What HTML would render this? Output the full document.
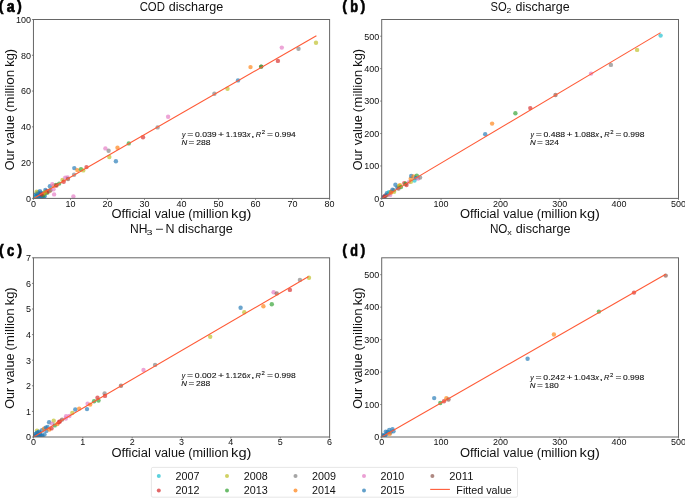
<!DOCTYPE html><html><head><meta charset="utf-8"><style>html,body{margin:0;padding:0;background:#fff;}svg{display:block;}text{font-family:"Liberation Sans", sans-serif;}</style></head><body>
<svg width="685" height="498" viewBox="0 0 685 498">
<rect width="685" height="498" fill="#fff"/>
<clipPath id="cpa"><rect x="33.45" y="19.5" width="296.15" height="178.9"/></clipPath><g clip-path="url(#cpa)">
<circle cx="34.5" cy="197.2" r="2.2" fill="#1f77b4" fill-opacity="0.66"/>
<circle cx="36" cy="196.9" r="2.2" fill="#1f77b4" fill-opacity="0.66"/>
<circle cx="38" cy="197.2" r="2.2" fill="#1f77b4" fill-opacity="0.66"/>
<circle cx="41.5" cy="197.3" r="2.2" fill="#1f77b4" fill-opacity="0.66"/>
<circle cx="43.5" cy="197.2" r="2.2" fill="#1f77b4" fill-opacity="0.66"/>
<circle cx="35" cy="195" r="2.2" fill="#1f77b4" fill-opacity="0.66"/>
<circle cx="38" cy="192.5" r="2.2" fill="#1f77b4" fill-opacity="0.66"/>
<circle cx="41" cy="192.8" r="2.2" fill="#1f77b4" fill-opacity="0.66"/>
<circle cx="40" cy="195.5" r="2.2" fill="#1f77b4" fill-opacity="0.66"/>
<circle cx="43" cy="193.5" r="2.2" fill="#1f77b4" fill-opacity="0.66"/>
<circle cx="46" cy="191.5" r="2.2" fill="#1f77b4" fill-opacity="0.66"/>
<circle cx="44.8" cy="196" r="2.2" fill="#1f77b4" fill-opacity="0.66"/>
<circle cx="35.5" cy="196.8" r="2.2" fill="#1f77b4" fill-opacity="0.66"/>
<circle cx="37" cy="195.5" r="2.2" fill="#1f77b4" fill-opacity="0.66"/>
<circle cx="38.5" cy="196.5" r="2.2" fill="#1f77b4" fill-opacity="0.66"/>
<circle cx="40.5" cy="196.8" r="2.2" fill="#1f77b4" fill-opacity="0.66"/>
<circle cx="39" cy="194" r="2.2" fill="#1f77b4" fill-opacity="0.66"/>
<circle cx="36.5" cy="193.5" r="2.2" fill="#1f77b4" fill-opacity="0.66"/>
<circle cx="36.6" cy="191.7" r="2.2" fill="#bcbd22" fill-opacity="0.66"/>
<circle cx="39.9" cy="191.1" r="2.2" fill="#1f77b4" fill-opacity="0.66"/>
<circle cx="37.8" cy="194.1" r="2.2" fill="#1f77b4" fill-opacity="0.66"/>
<circle cx="42" cy="195.5" r="2.2" fill="#1f77b4" fill-opacity="0.66"/>
<circle cx="43.3" cy="195.3" r="2.2" fill="#2ca02c" fill-opacity="0.66"/>
<circle cx="44.2" cy="193.2" r="2.2" fill="#ff7f0e" fill-opacity="0.66"/>
<circle cx="46.9" cy="192.9" r="2.2" fill="#2ca02c" fill-opacity="0.66"/>
<circle cx="45.4" cy="189.9" r="2.2" fill="#1f77b4" fill-opacity="0.66"/>
<circle cx="41.5" cy="194.5" r="2.2" fill="#d62728" fill-opacity="0.66"/>
<circle cx="34.5" cy="197.5" r="2.2" fill="#17becf" fill-opacity="0.66"/>
<circle cx="48.5" cy="191.5" r="2.2" fill="#8c564b" fill-opacity="0.66"/>
<circle cx="50" cy="190.5" r="2.2" fill="#ff7f0e" fill-opacity="0.66"/>
<circle cx="47" cy="191.5" r="2.2" fill="#d62728" fill-opacity="0.66"/>
<circle cx="50.5" cy="190.2" r="2.2" fill="#7f7f7f" fill-opacity="0.66"/>
<circle cx="45" cy="192.2" r="2.2" fill="#bcbd22" fill-opacity="0.66"/>
<circle cx="49.9" cy="186.3" r="2.2" fill="#1f77b4" fill-opacity="0.66"/>
<circle cx="53.5" cy="189.3" r="2.2" fill="#e377c2" fill-opacity="0.66"/>
<circle cx="53.8" cy="185.7" r="2.2" fill="#ff7f0e" fill-opacity="0.66"/>
<circle cx="55.9" cy="185" r="2.2" fill="#2ca02c" fill-opacity="0.66"/>
<circle cx="52.3" cy="184.2" r="2.2" fill="#e377c2" fill-opacity="0.66"/>
<circle cx="59.2" cy="183.6" r="2.2" fill="#2ca02c" fill-opacity="0.66"/>
<circle cx="56.5" cy="185.5" r="2.2" fill="#d62728" fill-opacity="0.66"/>
<circle cx="62.5" cy="179.9" r="2.2" fill="#bcbd22" fill-opacity="0.66"/>
<circle cx="63.7" cy="181.7" r="2.2" fill="#d62728" fill-opacity="0.66"/>
<circle cx="65.3" cy="177.6" r="2.2" fill="#e377c2" fill-opacity="0.66"/>
<circle cx="67.6" cy="177.4" r="2.2" fill="#e377c2" fill-opacity="0.66"/>
<circle cx="68" cy="179" r="2.2" fill="#8c564b" fill-opacity="0.66"/>
<circle cx="54.1" cy="194.4" r="2.2" fill="#e377c2" fill-opacity="0.66"/>
<circle cx="73.4" cy="196.5" r="2.2" fill="#e377c2" fill-opacity="0.66"/>
<circle cx="74.1" cy="174.7" r="2.2" fill="#7f7f7f" fill-opacity="0.66"/>
<circle cx="74.3" cy="168.1" r="2.2" fill="#1f77b4" fill-opacity="0.66"/>
<circle cx="77.3" cy="170.1" r="2.2" fill="#ff7f0e" fill-opacity="0.66"/>
<circle cx="81" cy="169.2" r="2.2" fill="#2ca02c" fill-opacity="0.66"/>
<circle cx="83.3" cy="170.4" r="2.2" fill="#bcbd22" fill-opacity="0.66"/>
<circle cx="86.5" cy="167.1" r="2.2" fill="#d62728" fill-opacity="0.66"/>
<circle cx="115.9" cy="161.3" r="2.2" fill="#1f77b4" fill-opacity="0.66"/>
<circle cx="109.3" cy="157" r="2.2" fill="#bcbd22" fill-opacity="0.66"/>
<circle cx="108.6" cy="150.8" r="2.2" fill="#7f7f7f" fill-opacity="0.66"/>
<circle cx="105.4" cy="148.4" r="2.2" fill="#e377c2" fill-opacity="0.66"/>
<circle cx="117.5" cy="147.7" r="2.2" fill="#ff7f0e" fill-opacity="0.66"/>
<circle cx="128.8" cy="143.4" r="2.2" fill="#2ca02c" fill-opacity="0.66"/>
<circle cx="143" cy="137.2" r="2.2" fill="#d62728" fill-opacity="0.66"/>
<circle cx="157.6" cy="127.4" r="2.2" fill="#7f7f7f" fill-opacity="0.66"/>
<circle cx="168.1" cy="116.8" r="2.2" fill="#e377c2" fill-opacity="0.66"/>
<circle cx="214.4" cy="93.8" r="2.2" fill="#7f7f7f" fill-opacity="0.66"/>
<circle cx="227.5" cy="88.8" r="2.2" fill="#bcbd22" fill-opacity="0.66"/>
<circle cx="238" cy="80.4" r="2.2" fill="#1f77b4" fill-opacity="0.66"/>
<circle cx="250.5" cy="67.1" r="2.2" fill="#ff7f0e" fill-opacity="0.66"/>
<circle cx="261.2" cy="66.6" r="2.2" fill="#8c564b" fill-opacity="0.66"/>
<circle cx="261.2" cy="66.6" r="2.2" fill="#2ca02c" fill-opacity="0.66"/>
<circle cx="277.9" cy="60.9" r="2.2" fill="#d62728" fill-opacity="0.66"/>
<circle cx="281.8" cy="47.6" r="2.2" fill="#e377c2" fill-opacity="0.66"/>
<circle cx="298.5" cy="48.7" r="2.2" fill="#7f7f7f" fill-opacity="0.66"/>
<circle cx="316" cy="42.8" r="2.2" fill="#bcbd22" fill-opacity="0.66"/>
<line x1="33.45" y1="198.4" x2="316.4" y2="35.7" stroke="#ff5a36" stroke-width="1.1"/>
</g>
<rect x="33.45" y="19.5" width="296.15" height="178.9" fill="none" stroke="#666" stroke-width="1.0"/>
<line x1="33.45" y1="198.4" x2="33.45" y2="199.9" stroke="#666" stroke-width="0.8"/>
<line x1="70.47" y1="198.4" x2="70.47" y2="199.9" stroke="#666" stroke-width="0.8"/>
<line x1="107.49" y1="198.4" x2="107.49" y2="199.9" stroke="#666" stroke-width="0.8"/>
<line x1="144.51" y1="198.4" x2="144.51" y2="199.9" stroke="#666" stroke-width="0.8"/>
<line x1="181.53" y1="198.4" x2="181.53" y2="199.9" stroke="#666" stroke-width="0.8"/>
<line x1="218.54" y1="198.4" x2="218.54" y2="199.9" stroke="#666" stroke-width="0.8"/>
<line x1="255.56" y1="198.4" x2="255.56" y2="199.9" stroke="#666" stroke-width="0.8"/>
<line x1="292.58" y1="198.4" x2="292.58" y2="199.9" stroke="#666" stroke-width="0.8"/>
<line x1="329.6" y1="198.4" x2="329.6" y2="199.9" stroke="#666" stroke-width="0.8"/>
<line x1="31.95" y1="198.4" x2="33.45" y2="198.4" stroke="#666" stroke-width="0.8"/>
<line x1="31.95" y1="162.62" x2="33.45" y2="162.62" stroke="#666" stroke-width="0.8"/>
<line x1="31.95" y1="126.84" x2="33.45" y2="126.84" stroke="#666" stroke-width="0.8"/>
<line x1="31.95" y1="91.06" x2="33.45" y2="91.06" stroke="#666" stroke-width="0.8"/>
<line x1="31.95" y1="55.28" x2="33.45" y2="55.28" stroke="#666" stroke-width="0.8"/>
<line x1="31.95" y1="19.5" x2="33.45" y2="19.5" stroke="#666" stroke-width="0.8"/>
<clipPath id="cpb"><rect x="381.7" y="19.5" width="296.8" height="178.9"/></clipPath><g clip-path="url(#cpb)">
<circle cx="386.5" cy="195.2" r="2.2" fill="#ff7f0e" fill-opacity="0.66"/>
<circle cx="389.2" cy="193.4" r="2.2" fill="#2ca02c" fill-opacity="0.66"/>
<circle cx="391.2" cy="191.8" r="2.2" fill="#d62728" fill-opacity="0.66"/>
<circle cx="387.8" cy="194.6" r="2.2" fill="#8c564b" fill-opacity="0.66"/>
<circle cx="385.2" cy="195.8" r="2.2" fill="#1f77b4" fill-opacity="0.66"/>
<circle cx="393.8" cy="190.2" r="2.2" fill="#7f7f7f" fill-opacity="0.66"/>
<circle cx="382.6" cy="197.6" r="2.2" fill="#1f77b4" fill-opacity="0.66"/>
<circle cx="383.9" cy="196.9" r="2.2" fill="#1f77b4" fill-opacity="0.66"/>
<circle cx="384.5" cy="196.5" r="2.2" fill="#d62728" fill-opacity="0.66"/>
<circle cx="386.9" cy="193.3" r="2.2" fill="#1f77b4" fill-opacity="0.66"/>
<circle cx="388.9" cy="192.3" r="2.2" fill="#17becf" fill-opacity="0.66"/>
<circle cx="390.2" cy="194.9" r="2.2" fill="#e377c2" fill-opacity="0.66"/>
<circle cx="394.1" cy="191.7" r="2.2" fill="#bcbd22" fill-opacity="0.66"/>
<circle cx="392.5" cy="189.7" r="2.2" fill="#1f77b4" fill-opacity="0.66"/>
<circle cx="391" cy="192.5" r="2.2" fill="#ff7f0e" fill-opacity="0.66"/>
<circle cx="395.4" cy="184.8" r="2.2" fill="#1f77b4" fill-opacity="0.66"/>
<circle cx="397.4" cy="187.4" r="2.2" fill="#1f77b4" fill-opacity="0.66"/>
<circle cx="400" cy="185.1" r="2.2" fill="#ff7f0e" fill-opacity="0.66"/>
<circle cx="399" cy="186" r="2.2" fill="#bcbd22" fill-opacity="0.66"/>
<circle cx="401" cy="187.1" r="2.2" fill="#2ca02c" fill-opacity="0.66"/>
<circle cx="398.5" cy="188.5" r="2.2" fill="#8c564b" fill-opacity="0.66"/>
<circle cx="404.3" cy="183.1" r="2.2" fill="#d62728" fill-opacity="0.66"/>
<circle cx="405.6" cy="183.8" r="2.2" fill="#2ca02c" fill-opacity="0.66"/>
<circle cx="408.9" cy="182.1" r="2.2" fill="#e377c2" fill-opacity="0.66"/>
<circle cx="410.9" cy="181.8" r="2.2" fill="#bcbd22" fill-opacity="0.66"/>
<circle cx="410.7" cy="178.8" r="2.2" fill="#ff7f0e" fill-opacity="0.66"/>
<circle cx="411.2" cy="175.9" r="2.2" fill="#1f77b4" fill-opacity="0.66"/>
<circle cx="413.5" cy="176.5" r="2.2" fill="#ff7f0e" fill-opacity="0.66"/>
<circle cx="416.8" cy="175.6" r="2.2" fill="#2ca02c" fill-opacity="0.66"/>
<circle cx="415.8" cy="177.9" r="2.2" fill="#1f77b4" fill-opacity="0.66"/>
<circle cx="414.5" cy="180.5" r="2.2" fill="#17becf" fill-opacity="0.66"/>
<circle cx="418.1" cy="178.5" r="2.2" fill="#e377c2" fill-opacity="0.66"/>
<circle cx="420.1" cy="177.5" r="2.2" fill="#7f7f7f" fill-opacity="0.66"/>
<circle cx="406.5" cy="185" r="2.2" fill="#d62728" fill-opacity="0.66"/>
<circle cx="485.2" cy="134.3" r="2.2" fill="#1f77b4" fill-opacity="0.66"/>
<circle cx="492.1" cy="123.6" r="2.2" fill="#ff7f0e" fill-opacity="0.66"/>
<circle cx="515.4" cy="113.2" r="2.2" fill="#2ca02c" fill-opacity="0.66"/>
<circle cx="530.3" cy="108.1" r="2.2" fill="#d62728" fill-opacity="0.66"/>
<circle cx="555.5" cy="95" r="2.2" fill="#8c564b" fill-opacity="0.66"/>
<circle cx="591.1" cy="73.6" r="2.2" fill="#e377c2" fill-opacity="0.66"/>
<circle cx="610.9" cy="64.9" r="2.2" fill="#7f7f7f" fill-opacity="0.66"/>
<circle cx="637.1" cy="49.9" r="2.2" fill="#bcbd22" fill-opacity="0.66"/>
<circle cx="660.6" cy="35.6" r="2.2" fill="#17becf" fill-opacity="0.66"/>
<line x1="381.7" y1="198.4" x2="660.6" y2="32.6" stroke="#ff5a36" stroke-width="1.1"/>
</g>
<rect x="381.7" y="19.5" width="296.8" height="178.9" fill="none" stroke="#666" stroke-width="1.0"/>
<line x1="381.7" y1="198.4" x2="381.7" y2="199.9" stroke="#666" stroke-width="0.8"/>
<line x1="441.06" y1="198.4" x2="441.06" y2="199.9" stroke="#666" stroke-width="0.8"/>
<line x1="500.42" y1="198.4" x2="500.42" y2="199.9" stroke="#666" stroke-width="0.8"/>
<line x1="559.78" y1="198.4" x2="559.78" y2="199.9" stroke="#666" stroke-width="0.8"/>
<line x1="619.14" y1="198.4" x2="619.14" y2="199.9" stroke="#666" stroke-width="0.8"/>
<line x1="678.5" y1="198.4" x2="678.5" y2="199.9" stroke="#666" stroke-width="0.8"/>
<line x1="380.2" y1="198.4" x2="381.7" y2="198.4" stroke="#666" stroke-width="0.8"/>
<line x1="380.2" y1="165.96" x2="381.7" y2="165.96" stroke="#666" stroke-width="0.8"/>
<line x1="380.2" y1="133.52" x2="381.7" y2="133.52" stroke="#666" stroke-width="0.8"/>
<line x1="380.2" y1="101.08" x2="381.7" y2="101.08" stroke="#666" stroke-width="0.8"/>
<line x1="380.2" y1="68.64" x2="381.7" y2="68.64" stroke="#666" stroke-width="0.8"/>
<line x1="380.2" y1="36.21" x2="381.7" y2="36.21" stroke="#666" stroke-width="0.8"/>
<clipPath id="cpc"><rect x="33.45" y="257.8" width="296.15" height="179.2"/></clipPath><g clip-path="url(#cpc)">
<circle cx="37" cy="430.6" r="2.2" fill="#bcbd22" fill-opacity="0.66"/>
<circle cx="34.2" cy="436.3" r="2.2" fill="#1f77b4" fill-opacity="0.66"/>
<circle cx="36.2" cy="436.2" r="2.2" fill="#1f77b4" fill-opacity="0.66"/>
<circle cx="38" cy="435" r="2.2" fill="#1f77b4" fill-opacity="0.66"/>
<circle cx="40" cy="433.2" r="2.2" fill="#1f77b4" fill-opacity="0.66"/>
<circle cx="42.5" cy="435.8" r="2.2" fill="#1f77b4" fill-opacity="0.66"/>
<circle cx="39" cy="431.8" r="2.2" fill="#1f77b4" fill-opacity="0.66"/>
<circle cx="44.5" cy="434.5" r="2.2" fill="#1f77b4" fill-opacity="0.66"/>
<circle cx="37.5" cy="432.5" r="2.2" fill="#1f77b4" fill-opacity="0.66"/>
<circle cx="41.5" cy="436.3" r="2.2" fill="#1f77b4" fill-opacity="0.66"/>
<circle cx="35.5" cy="434" r="2.2" fill="#1f77b4" fill-opacity="0.66"/>
<circle cx="35.1" cy="435.7" r="2.2" fill="#1f77b4" fill-opacity="0.66"/>
<circle cx="38.8" cy="436" r="2.2" fill="#1f77b4" fill-opacity="0.66"/>
<circle cx="40.2" cy="434.9" r="2.2" fill="#1f77b4" fill-opacity="0.66"/>
<circle cx="36.6" cy="433.1" r="2.2" fill="#1f77b4" fill-opacity="0.66"/>
<circle cx="42" cy="430.2" r="2.2" fill="#1f77b4" fill-opacity="0.66"/>
<circle cx="44" cy="428.6" r="2.2" fill="#ff7f0e" fill-opacity="0.66"/>
<circle cx="46.4" cy="430.9" r="2.2" fill="#1f77b4" fill-opacity="0.66"/>
<circle cx="45.7" cy="427.6" r="2.2" fill="#1f77b4" fill-opacity="0.66"/>
<circle cx="47.5" cy="426.9" r="2.2" fill="#1f77b4" fill-opacity="0.66"/>
<circle cx="49.3" cy="429.5" r="2.2" fill="#ff7f0e" fill-opacity="0.66"/>
<circle cx="51.5" cy="428.4" r="2.2" fill="#d62728" fill-opacity="0.66"/>
<circle cx="49.1" cy="422.3" r="2.2" fill="#1f77b4" fill-opacity="0.66"/>
<circle cx="53.7" cy="420.7" r="2.2" fill="#bcbd22" fill-opacity="0.66"/>
<circle cx="51.9" cy="423.6" r="2.2" fill="#e377c2" fill-opacity="0.66"/>
<circle cx="54.8" cy="425.4" r="2.2" fill="#2ca02c" fill-opacity="0.66"/>
<circle cx="57.4" cy="424" r="2.2" fill="#ff7f0e" fill-opacity="0.66"/>
<circle cx="58.8" cy="422.2" r="2.2" fill="#d62728" fill-opacity="0.66"/>
<circle cx="59.9" cy="421.4" r="2.2" fill="#d62728" fill-opacity="0.66"/>
<circle cx="62.1" cy="419.6" r="2.2" fill="#8c564b" fill-opacity="0.66"/>
<circle cx="65.8" cy="418.5" r="2.2" fill="#e377c2" fill-opacity="0.66"/>
<circle cx="66.1" cy="416.3" r="2.2" fill="#e377c2" fill-opacity="0.66"/>
<circle cx="69.4" cy="416" r="2.2" fill="#e377c2" fill-opacity="0.66"/>
<circle cx="72.3" cy="413" r="2.2" fill="#bcbd22" fill-opacity="0.66"/>
<circle cx="75.3" cy="409.5" r="2.2" fill="#1f77b4" fill-opacity="0.66"/>
<circle cx="79.2" cy="408.6" r="2.2" fill="#ff7f0e" fill-opacity="0.66"/>
<circle cx="87" cy="409.1" r="2.2" fill="#1f77b4" fill-opacity="0.66"/>
<circle cx="87.6" cy="403.7" r="2.2" fill="#e377c2" fill-opacity="0.66"/>
<circle cx="90.2" cy="404.6" r="2.2" fill="#ff7f0e" fill-opacity="0.66"/>
<circle cx="94.1" cy="401.3" r="2.2" fill="#2ca02c" fill-opacity="0.66"/>
<circle cx="98.5" cy="400.5" r="2.2" fill="#2ca02c" fill-opacity="0.66"/>
<circle cx="97.5" cy="397.8" r="2.2" fill="#d62728" fill-opacity="0.66"/>
<circle cx="104.6" cy="393.5" r="2.2" fill="#7f7f7f" fill-opacity="0.66"/>
<circle cx="105" cy="395.9" r="2.2" fill="#d62728" fill-opacity="0.66"/>
<circle cx="121" cy="385.8" r="2.2" fill="#8c564b" fill-opacity="0.66"/>
<circle cx="143.5" cy="370" r="2.2" fill="#e377c2" fill-opacity="0.66"/>
<circle cx="155.1" cy="364.9" r="2.2" fill="#7f7f7f" fill-opacity="0.66"/>
<circle cx="210.2" cy="336.8" r="2.2" fill="#bcbd22" fill-opacity="0.66"/>
<circle cx="240.6" cy="307.7" r="2.2" fill="#1f77b4" fill-opacity="0.66"/>
<circle cx="244.3" cy="312.3" r="2.2" fill="#bcbd22" fill-opacity="0.66"/>
<circle cx="263.4" cy="306.3" r="2.2" fill="#ff7f0e" fill-opacity="0.66"/>
<circle cx="271.8" cy="304.2" r="2.2" fill="#2ca02c" fill-opacity="0.66"/>
<circle cx="273.6" cy="292.2" r="2.2" fill="#e377c2" fill-opacity="0.66"/>
<circle cx="276.7" cy="293.4" r="2.2" fill="#8c564b" fill-opacity="0.66"/>
<circle cx="289.9" cy="289.9" r="2.2" fill="#d62728" fill-opacity="0.66"/>
<circle cx="299.9" cy="279.9" r="2.2" fill="#7f7f7f" fill-opacity="0.66"/>
<circle cx="309" cy="277.8" r="2.2" fill="#bcbd22" fill-opacity="0.66"/>
<line x1="33.45" y1="437" x2="308.6" y2="276.4" stroke="#ff5a36" stroke-width="1.1"/>
</g>
<rect x="33.45" y="257.8" width="296.15" height="179.2" fill="none" stroke="#666" stroke-width="1.0"/>
<line x1="33.45" y1="437" x2="33.45" y2="438.5" stroke="#666" stroke-width="0.8"/>
<line x1="82.81" y1="437" x2="82.81" y2="438.5" stroke="#666" stroke-width="0.8"/>
<line x1="132.17" y1="437" x2="132.17" y2="438.5" stroke="#666" stroke-width="0.8"/>
<line x1="181.53" y1="437" x2="181.53" y2="438.5" stroke="#666" stroke-width="0.8"/>
<line x1="230.88" y1="437" x2="230.88" y2="438.5" stroke="#666" stroke-width="0.8"/>
<line x1="280.24" y1="437" x2="280.24" y2="438.5" stroke="#666" stroke-width="0.8"/>
<line x1="329.6" y1="437" x2="329.6" y2="438.5" stroke="#666" stroke-width="0.8"/>
<line x1="31.95" y1="437" x2="33.45" y2="437" stroke="#666" stroke-width="0.8"/>
<line x1="31.95" y1="411.4" x2="33.45" y2="411.4" stroke="#666" stroke-width="0.8"/>
<line x1="31.95" y1="385.8" x2="33.45" y2="385.8" stroke="#666" stroke-width="0.8"/>
<line x1="31.95" y1="360.2" x2="33.45" y2="360.2" stroke="#666" stroke-width="0.8"/>
<line x1="31.95" y1="334.6" x2="33.45" y2="334.6" stroke="#666" stroke-width="0.8"/>
<line x1="31.95" y1="309" x2="33.45" y2="309" stroke="#666" stroke-width="0.8"/>
<line x1="31.95" y1="283.4" x2="33.45" y2="283.4" stroke="#666" stroke-width="0.8"/>
<line x1="31.95" y1="257.8" x2="33.45" y2="257.8" stroke="#666" stroke-width="0.8"/>
<clipPath id="cpd"><rect x="381.7" y="257.8" width="296.8" height="179.2"/></clipPath><g clip-path="url(#cpd)">
<circle cx="382.9" cy="434.9" r="2.2" fill="#1f77b4" fill-opacity="0.66"/>
<circle cx="384.8" cy="435.8" r="2.2" fill="#1f77b4" fill-opacity="0.66"/>
<circle cx="383.5" cy="436" r="2.2" fill="#1f77b4" fill-opacity="0.66"/>
<circle cx="386.4" cy="434.2" r="2.2" fill="#1f77b4" fill-opacity="0.66"/>
<circle cx="385.8" cy="431.6" r="2.2" fill="#1f77b4" fill-opacity="0.66"/>
<circle cx="389.3" cy="429.9" r="2.2" fill="#1f77b4" fill-opacity="0.66"/>
<circle cx="392.5" cy="429.1" r="2.2" fill="#1f77b4" fill-opacity="0.66"/>
<circle cx="393.5" cy="431.3" r="2.2" fill="#1f77b4" fill-opacity="0.66"/>
<circle cx="387.5" cy="432" r="2.2" fill="#1f77b4" fill-opacity="0.66"/>
<circle cx="390.5" cy="432.5" r="2.2" fill="#1f77b4" fill-opacity="0.66"/>
<circle cx="389.6" cy="433.9" r="2.2" fill="#ff7f0e" fill-opacity="0.66"/>
<circle cx="434.2" cy="398.1" r="2.2" fill="#1f77b4" fill-opacity="0.66"/>
<circle cx="440.3" cy="403" r="2.2" fill="#2ca02c" fill-opacity="0.66"/>
<circle cx="444" cy="401.2" r="2.2" fill="#d62728" fill-opacity="0.66"/>
<circle cx="446.4" cy="398.2" r="2.2" fill="#ff7f0e" fill-opacity="0.66"/>
<circle cx="448.5" cy="399.5" r="2.2" fill="#8c564b" fill-opacity="0.66"/>
<circle cx="527.6" cy="358.7" r="2.2" fill="#1f77b4" fill-opacity="0.66"/>
<circle cx="553.9" cy="334.5" r="2.2" fill="#ff7f0e" fill-opacity="0.66"/>
<circle cx="598.9" cy="311.6" r="2.2" fill="#2ca02c" fill-opacity="0.66"/>
<circle cx="634" cy="292.6" r="2.2" fill="#d62728" fill-opacity="0.66"/>
<circle cx="665.7" cy="275.6" r="2.2" fill="#8c564b" fill-opacity="0.66"/>
<line x1="381.7" y1="437" x2="665.7" y2="274.2" stroke="#ff5a36" stroke-width="1.1"/>
</g>
<rect x="381.7" y="257.8" width="296.8" height="179.2" fill="none" stroke="#666" stroke-width="1.0"/>
<line x1="381.7" y1="437" x2="381.7" y2="438.5" stroke="#666" stroke-width="0.8"/>
<line x1="441.06" y1="437" x2="441.06" y2="438.5" stroke="#666" stroke-width="0.8"/>
<line x1="500.42" y1="437" x2="500.42" y2="438.5" stroke="#666" stroke-width="0.8"/>
<line x1="559.78" y1="437" x2="559.78" y2="438.5" stroke="#666" stroke-width="0.8"/>
<line x1="619.14" y1="437" x2="619.14" y2="438.5" stroke="#666" stroke-width="0.8"/>
<line x1="678.5" y1="437" x2="678.5" y2="438.5" stroke="#666" stroke-width="0.8"/>
<line x1="380.2" y1="437" x2="381.7" y2="437" stroke="#666" stroke-width="0.8"/>
<line x1="380.2" y1="404.54" x2="381.7" y2="404.54" stroke="#666" stroke-width="0.8"/>
<line x1="380.2" y1="372.07" x2="381.7" y2="372.07" stroke="#666" stroke-width="0.8"/>
<line x1="380.2" y1="339.61" x2="381.7" y2="339.61" stroke="#666" stroke-width="0.8"/>
<line x1="380.2" y1="307.14" x2="381.7" y2="307.14" stroke="#666" stroke-width="0.8"/>
<line x1="380.2" y1="274.68" x2="381.7" y2="274.68" stroke="#666" stroke-width="0.8"/>
<g style="filter:grayscale(1)">
<text x="33.45" y="206.9" font-size="8.4" text-anchor="middle" fill="#111" textLength="5" lengthAdjust="spacingAndGlyphs">0</text>
<text x="70.47" y="206.9" font-size="8.4" text-anchor="middle" fill="#111" textLength="10" lengthAdjust="spacingAndGlyphs">10</text>
<text x="107.49" y="206.9" font-size="8.4" text-anchor="middle" fill="#111" textLength="10" lengthAdjust="spacingAndGlyphs">20</text>
<text x="144.51" y="206.9" font-size="8.4" text-anchor="middle" fill="#111" textLength="10" lengthAdjust="spacingAndGlyphs">30</text>
<text x="181.53" y="206.9" font-size="8.4" text-anchor="middle" fill="#111" textLength="10" lengthAdjust="spacingAndGlyphs">40</text>
<text x="218.54" y="206.9" font-size="8.4" text-anchor="middle" fill="#111" textLength="10" lengthAdjust="spacingAndGlyphs">50</text>
<text x="255.56" y="206.9" font-size="8.4" text-anchor="middle" fill="#111" textLength="10" lengthAdjust="spacingAndGlyphs">60</text>
<text x="292.58" y="206.9" font-size="8.4" text-anchor="middle" fill="#111" textLength="10" lengthAdjust="spacingAndGlyphs">70</text>
<text x="329.6" y="206.9" font-size="8.4" text-anchor="middle" fill="#111" textLength="10" lengthAdjust="spacingAndGlyphs">80</text>
<text x="31.05" y="201.7" font-size="8.4" text-anchor="end" fill="#111" textLength="5" lengthAdjust="spacingAndGlyphs">0</text>
<text x="31.05" y="165.92" font-size="8.4" text-anchor="end" fill="#111" textLength="10" lengthAdjust="spacingAndGlyphs">20</text>
<text x="31.05" y="130.14" font-size="8.4" text-anchor="end" fill="#111" textLength="10" lengthAdjust="spacingAndGlyphs">40</text>
<text x="31.05" y="94.36" font-size="8.4" text-anchor="end" fill="#111" textLength="10" lengthAdjust="spacingAndGlyphs">60</text>
<text x="31.05" y="58.58" font-size="8.4" text-anchor="end" fill="#111" textLength="10" lengthAdjust="spacingAndGlyphs">80</text>
<text x="31.05" y="22.8" font-size="8.4" text-anchor="end" fill="#111" textLength="15" lengthAdjust="spacingAndGlyphs">100</text>
<text x="-1.3" y="10.8" font-size="14.5" font-weight="bold" fill="#000" stroke="#000" stroke-width="0.45">(</text>
<text x="6.8" y="11.8" font-size="16" font-weight="bold" fill="#000" stroke="#000" stroke-width="0.7" textLength="7.9" lengthAdjust="spacingAndGlyphs">a</text>
<text x="17" y="10.8" font-size="14.5" font-weight="bold" fill="#000" stroke="#000" stroke-width="0.45">)</text>
<text x="381.7" y="206.9" font-size="8.4" text-anchor="middle" fill="#111" textLength="5" lengthAdjust="spacingAndGlyphs">0</text>
<text x="441.06" y="206.9" font-size="8.4" text-anchor="middle" fill="#111" textLength="15" lengthAdjust="spacingAndGlyphs">100</text>
<text x="500.42" y="206.9" font-size="8.4" text-anchor="middle" fill="#111" textLength="15" lengthAdjust="spacingAndGlyphs">200</text>
<text x="559.78" y="206.9" font-size="8.4" text-anchor="middle" fill="#111" textLength="15" lengthAdjust="spacingAndGlyphs">300</text>
<text x="619.14" y="206.9" font-size="8.4" text-anchor="middle" fill="#111" textLength="15" lengthAdjust="spacingAndGlyphs">400</text>
<text x="678.5" y="206.9" font-size="8.4" text-anchor="middle" fill="#111" textLength="15" lengthAdjust="spacingAndGlyphs">500</text>
<text x="379.3" y="201.7" font-size="8.4" text-anchor="end" fill="#111" textLength="5" lengthAdjust="spacingAndGlyphs">0</text>
<text x="379.3" y="169.26" font-size="8.4" text-anchor="end" fill="#111" textLength="15" lengthAdjust="spacingAndGlyphs">100</text>
<text x="379.3" y="136.82" font-size="8.4" text-anchor="end" fill="#111" textLength="15" lengthAdjust="spacingAndGlyphs">200</text>
<text x="379.3" y="104.38" font-size="8.4" text-anchor="end" fill="#111" textLength="15" lengthAdjust="spacingAndGlyphs">300</text>
<text x="379.3" y="71.94" font-size="8.4" text-anchor="end" fill="#111" textLength="15" lengthAdjust="spacingAndGlyphs">400</text>
<text x="379.3" y="39.51" font-size="8.4" text-anchor="end" fill="#111" textLength="15" lengthAdjust="spacingAndGlyphs">500</text>
<text x="342.2" y="10.8" font-size="14.5" font-weight="bold" fill="#000" stroke="#000" stroke-width="0.45">(</text>
<text x="350.3" y="11.8" font-size="16" font-weight="bold" fill="#000" stroke="#000" stroke-width="0.7" textLength="7.8" lengthAdjust="spacingAndGlyphs">b</text>
<text x="360.5" y="10.8" font-size="14.5" font-weight="bold" fill="#000" stroke="#000" stroke-width="0.45">)</text>
<text x="33.45" y="445" font-size="8.4" text-anchor="middle" fill="#111" textLength="5" lengthAdjust="spacingAndGlyphs">0</text>
<text x="82.81" y="445" font-size="8.4" text-anchor="middle" fill="#111" textLength="5" lengthAdjust="spacingAndGlyphs">1</text>
<text x="132.17" y="445" font-size="8.4" text-anchor="middle" fill="#111" textLength="5" lengthAdjust="spacingAndGlyphs">2</text>
<text x="181.53" y="445" font-size="8.4" text-anchor="middle" fill="#111" textLength="5" lengthAdjust="spacingAndGlyphs">3</text>
<text x="230.88" y="445" font-size="8.4" text-anchor="middle" fill="#111" textLength="5" lengthAdjust="spacingAndGlyphs">4</text>
<text x="280.24" y="445" font-size="8.4" text-anchor="middle" fill="#111" textLength="5" lengthAdjust="spacingAndGlyphs">5</text>
<text x="329.6" y="445" font-size="8.4" text-anchor="middle" fill="#111" textLength="5" lengthAdjust="spacingAndGlyphs">6</text>
<text x="31.05" y="440.3" font-size="8.4" text-anchor="end" fill="#111" textLength="5" lengthAdjust="spacingAndGlyphs">0</text>
<text x="31.05" y="414.7" font-size="8.4" text-anchor="end" fill="#111" textLength="5" lengthAdjust="spacingAndGlyphs">1</text>
<text x="31.05" y="389.1" font-size="8.4" text-anchor="end" fill="#111" textLength="5" lengthAdjust="spacingAndGlyphs">2</text>
<text x="31.05" y="363.5" font-size="8.4" text-anchor="end" fill="#111" textLength="5" lengthAdjust="spacingAndGlyphs">3</text>
<text x="31.05" y="337.9" font-size="8.4" text-anchor="end" fill="#111" textLength="5" lengthAdjust="spacingAndGlyphs">4</text>
<text x="31.05" y="312.3" font-size="8.4" text-anchor="end" fill="#111" textLength="5" lengthAdjust="spacingAndGlyphs">5</text>
<text x="31.05" y="286.7" font-size="8.4" text-anchor="end" fill="#111" textLength="5" lengthAdjust="spacingAndGlyphs">6</text>
<text x="31.05" y="261.1" font-size="8.4" text-anchor="end" fill="#111" textLength="5" lengthAdjust="spacingAndGlyphs">7</text>
<text x="-1" y="254.7" font-size="14.5" font-weight="bold" fill="#000" stroke="#000" stroke-width="0.45">(</text>
<text x="7.1" y="255.7" font-size="16" font-weight="bold" fill="#000" stroke="#000" stroke-width="0.7" textLength="7.2" lengthAdjust="spacingAndGlyphs">c</text>
<text x="17.3" y="254.7" font-size="14.5" font-weight="bold" fill="#000" stroke="#000" stroke-width="0.45">)</text>
<text x="381.7" y="445" font-size="8.4" text-anchor="middle" fill="#111" textLength="5" lengthAdjust="spacingAndGlyphs">0</text>
<text x="441.06" y="445" font-size="8.4" text-anchor="middle" fill="#111" textLength="15" lengthAdjust="spacingAndGlyphs">100</text>
<text x="500.42" y="445" font-size="8.4" text-anchor="middle" fill="#111" textLength="15" lengthAdjust="spacingAndGlyphs">200</text>
<text x="559.78" y="445" font-size="8.4" text-anchor="middle" fill="#111" textLength="15" lengthAdjust="spacingAndGlyphs">300</text>
<text x="619.14" y="445" font-size="8.4" text-anchor="middle" fill="#111" textLength="15" lengthAdjust="spacingAndGlyphs">400</text>
<text x="678.5" y="445" font-size="8.4" text-anchor="middle" fill="#111" textLength="15" lengthAdjust="spacingAndGlyphs">500</text>
<text x="379.3" y="440.3" font-size="8.4" text-anchor="end" fill="#111" textLength="5" lengthAdjust="spacingAndGlyphs">0</text>
<text x="379.3" y="407.84" font-size="8.4" text-anchor="end" fill="#111" textLength="15" lengthAdjust="spacingAndGlyphs">100</text>
<text x="379.3" y="375.37" font-size="8.4" text-anchor="end" fill="#111" textLength="15" lengthAdjust="spacingAndGlyphs">200</text>
<text x="379.3" y="342.91" font-size="8.4" text-anchor="end" fill="#111" textLength="15" lengthAdjust="spacingAndGlyphs">300</text>
<text x="379.3" y="310.44" font-size="8.4" text-anchor="end" fill="#111" textLength="15" lengthAdjust="spacingAndGlyphs">400</text>
<text x="379.3" y="277.98" font-size="8.4" text-anchor="end" fill="#111" textLength="15" lengthAdjust="spacingAndGlyphs">500</text>
<text x="342.2" y="254.7" font-size="14.5" font-weight="bold" fill="#000" stroke="#000" stroke-width="0.45">(</text>
<text x="350.3" y="255.7" font-size="16" font-weight="bold" fill="#000" stroke="#000" stroke-width="0.7" textLength="7.7" lengthAdjust="spacingAndGlyphs">d</text>
<text x="360.5" y="254.7" font-size="14.5" font-weight="bold" fill="#000" stroke="#000" stroke-width="0.45">)</text>
<text x="139.64" y="11.1" font-size="12" fill="#111" textLength="25.23" lengthAdjust="spacingAndGlyphs">COD</text>
<text x="168.78" y="11.1" font-size="12" fill="#111" textLength="54.5" lengthAdjust="spacingAndGlyphs">discharge</text>
<text x="111.47" y="217.9" font-size="12" fill="#111" textLength="39.36" lengthAdjust="spacingAndGlyphs">Official</text>
<text x="154.68" y="217.9" font-size="12" fill="#111" textLength="30.31" lengthAdjust="spacingAndGlyphs">value</text>
<text x="188.18" y="217.9" font-size="12" fill="#111" textLength="40.41" lengthAdjust="spacingAndGlyphs">(million</text>
<text x="231.06" y="217.9" font-size="12" fill="#111" textLength="20.38" lengthAdjust="spacingAndGlyphs">kg)</text>
<text transform="translate(13.55 0) rotate(-90)" x="-170.24" y="0" font-size="12" fill="#111" textLength="20.95" lengthAdjust="spacingAndGlyphs">Our</text>
<text transform="translate(13.55 0) rotate(-90)" x="-145.25" y="0" font-size="12" fill="#111" textLength="30.11" lengthAdjust="spacingAndGlyphs">value</text>
<text transform="translate(13.55 0) rotate(-90)" x="-112.18" y="0" font-size="12" fill="#111" textLength="42.38" lengthAdjust="spacingAndGlyphs">(million</text>
<text transform="translate(13.55 0) rotate(-90)" x="-66.75" y="0" font-size="12" fill="#111" textLength="17.76" lengthAdjust="spacingAndGlyphs">kg)</text>
<text x="182.03" y="136.6" font-size="7.9" font-style="italic" stroke="#111" stroke-width="0.1" fill="#111" textLength="3.44" lengthAdjust="spacingAndGlyphs">y</text>
<text x="187.31" y="136.6" font-size="7.9" stroke="#111" stroke-width="0.1" fill="#111" textLength="6.07" lengthAdjust="spacingAndGlyphs">=</text>
<text x="195.03" y="136.6" font-size="7.9" stroke="#111" stroke-width="0.1" fill="#111" textLength="21.62" lengthAdjust="spacingAndGlyphs">0.039</text>
<text x="218.11" y="136.6" font-size="7.9" stroke="#111" stroke-width="0.1" fill="#111" textLength="6.07" lengthAdjust="spacingAndGlyphs">+</text>
<text x="225.78" y="136.6" font-size="7.9" stroke="#111" stroke-width="0.1" fill="#111" textLength="20.96" lengthAdjust="spacingAndGlyphs">1.193</text>
<text x="246.85" y="136.6" font-size="7.9" font-style="italic" stroke="#111" stroke-width="0.1" fill="#111" textLength="3.72" lengthAdjust="spacingAndGlyphs">x</text>
<text x="250.88" y="136.6" font-size="7.9" stroke="#111" stroke-width="0.1" fill="#111" textLength="4" lengthAdjust="spacingAndGlyphs">,</text>
<text x="255.78" y="136.6" font-size="7.9" font-style="italic" stroke="#111" stroke-width="0.1" fill="#111" textLength="5.36" lengthAdjust="spacingAndGlyphs">R</text>
<text x="261.72" y="133.6" font-size="5.3" stroke="#111" stroke-width="0.1" fill="#111" textLength="3.32" lengthAdjust="spacingAndGlyphs">2</text>
<text x="267.12" y="136.6" font-size="7.9" stroke="#111" stroke-width="0.1" fill="#111" textLength="5.96" lengthAdjust="spacingAndGlyphs">=</text>
<text x="274.74" y="136.6" font-size="7.9" stroke="#111" stroke-width="0.1" fill="#111" textLength="21.07" lengthAdjust="spacingAndGlyphs">0.994</text>
<text x="181.48" y="144.9" font-size="7.9" font-style="italic" stroke="#111" stroke-width="0.1" fill="#111" textLength="5.73" lengthAdjust="spacingAndGlyphs">N</text>
<text x="188.63" y="144.9" font-size="7.9" stroke="#111" stroke-width="0.1" fill="#111" textLength="5.84" lengthAdjust="spacingAndGlyphs">=</text>
<text x="196.3" y="144.9" font-size="7.9" stroke="#111" stroke-width="0.1" fill="#111" textLength="14.25" lengthAdjust="spacingAndGlyphs">288</text>
<text x="490.45" y="11.1" font-size="12" fill="#111" textLength="16.13" lengthAdjust="spacingAndGlyphs">SO</text>
<text x="506.5" y="12.7" font-size="6.8" fill="#111" textLength="4.75" lengthAdjust="spacingAndGlyphs">2</text>
<text x="515.61" y="11.1" font-size="12" fill="#111" textLength="53.99" lengthAdjust="spacingAndGlyphs">discharge</text>
<text x="460.04" y="217.9" font-size="12" fill="#111" textLength="39.36" lengthAdjust="spacingAndGlyphs">Official</text>
<text x="503.25" y="217.9" font-size="12" fill="#111" textLength="30.31" lengthAdjust="spacingAndGlyphs">value</text>
<text x="536.75" y="217.9" font-size="12" fill="#111" textLength="40.41" lengthAdjust="spacingAndGlyphs">(million</text>
<text x="579.63" y="217.9" font-size="12" fill="#111" textLength="20.38" lengthAdjust="spacingAndGlyphs">kg)</text>
<text transform="translate(361.8 0) rotate(-90)" x="-170.24" y="0" font-size="12" fill="#111" textLength="20.95" lengthAdjust="spacingAndGlyphs">Our</text>
<text transform="translate(361.8 0) rotate(-90)" x="-145.25" y="0" font-size="12" fill="#111" textLength="30.11" lengthAdjust="spacingAndGlyphs">value</text>
<text transform="translate(361.8 0) rotate(-90)" x="-112.18" y="0" font-size="12" fill="#111" textLength="42.38" lengthAdjust="spacingAndGlyphs">(million</text>
<text transform="translate(361.8 0) rotate(-90)" x="-66.75" y="0" font-size="12" fill="#111" textLength="17.76" lengthAdjust="spacingAndGlyphs">kg)</text>
<text x="530.53" y="136.8" font-size="7.9" font-style="italic" stroke="#111" stroke-width="0.1" fill="#111" textLength="3.44" lengthAdjust="spacingAndGlyphs">y</text>
<text x="535.81" y="136.8" font-size="7.9" stroke="#111" stroke-width="0.1" fill="#111" textLength="6.07" lengthAdjust="spacingAndGlyphs">=</text>
<text x="543.53" y="136.8" font-size="7.9" stroke="#111" stroke-width="0.1" fill="#111" textLength="21.62" lengthAdjust="spacingAndGlyphs">0.488</text>
<text x="566.61" y="136.8" font-size="7.9" stroke="#111" stroke-width="0.1" fill="#111" textLength="6.07" lengthAdjust="spacingAndGlyphs">+</text>
<text x="574.28" y="136.8" font-size="7.9" stroke="#111" stroke-width="0.1" fill="#111" textLength="20.96" lengthAdjust="spacingAndGlyphs">1.088</text>
<text x="595.35" y="136.8" font-size="7.9" font-style="italic" stroke="#111" stroke-width="0.1" fill="#111" textLength="3.72" lengthAdjust="spacingAndGlyphs">x</text>
<text x="599.38" y="136.8" font-size="7.9" stroke="#111" stroke-width="0.1" fill="#111" textLength="4" lengthAdjust="spacingAndGlyphs">,</text>
<text x="604.28" y="136.8" font-size="7.9" font-style="italic" stroke="#111" stroke-width="0.1" fill="#111" textLength="5.36" lengthAdjust="spacingAndGlyphs">R</text>
<text x="610.22" y="133.8" font-size="5.3" stroke="#111" stroke-width="0.1" fill="#111" textLength="3.32" lengthAdjust="spacingAndGlyphs">2</text>
<text x="615.62" y="136.8" font-size="7.9" stroke="#111" stroke-width="0.1" fill="#111" textLength="5.96" lengthAdjust="spacingAndGlyphs">=</text>
<text x="623.24" y="136.8" font-size="7.9" stroke="#111" stroke-width="0.1" fill="#111" textLength="21.21" lengthAdjust="spacingAndGlyphs">0.998</text>
<text x="529.98" y="145.2" font-size="7.9" font-style="italic" stroke="#111" stroke-width="0.1" fill="#111" textLength="5.73" lengthAdjust="spacingAndGlyphs">N</text>
<text x="537.13" y="145.2" font-size="7.9" stroke="#111" stroke-width="0.1" fill="#111" textLength="5.84" lengthAdjust="spacingAndGlyphs">=</text>
<text x="544.94" y="145.2" font-size="7.9" stroke="#111" stroke-width="0.1" fill="#111" textLength="13.97" lengthAdjust="spacingAndGlyphs">324</text>
<text x="130.03" y="233.2" font-size="12" fill="#111" textLength="17.43" lengthAdjust="spacingAndGlyphs">NH</text>
<text x="146.54" y="234.8" font-size="6.8" fill="#111" textLength="5.97" lengthAdjust="spacingAndGlyphs">3</text>
<text x="154.9" y="233.2" font-size="12" fill="#111" textLength="8.41" lengthAdjust="spacingAndGlyphs">−</text>
<text x="165.6" y="233.2" font-size="12" fill="#111" textLength="8.99" lengthAdjust="spacingAndGlyphs">N</text>
<text x="177.98" y="233.2" font-size="12" fill="#111" textLength="54.71" lengthAdjust="spacingAndGlyphs">discharge</text>
<text x="111.47" y="456.5" font-size="12" fill="#111" textLength="39.36" lengthAdjust="spacingAndGlyphs">Official</text>
<text x="154.68" y="456.5" font-size="12" fill="#111" textLength="30.31" lengthAdjust="spacingAndGlyphs">value</text>
<text x="188.18" y="456.5" font-size="12" fill="#111" textLength="40.41" lengthAdjust="spacingAndGlyphs">(million</text>
<text x="231.06" y="456.5" font-size="12" fill="#111" textLength="20.38" lengthAdjust="spacingAndGlyphs">kg)</text>
<text transform="translate(13.55 0) rotate(-90)" x="-408.69" y="0" font-size="12" fill="#111" textLength="20.95" lengthAdjust="spacingAndGlyphs">Our</text>
<text transform="translate(13.55 0) rotate(-90)" x="-383.7" y="0" font-size="12" fill="#111" textLength="30.11" lengthAdjust="spacingAndGlyphs">value</text>
<text transform="translate(13.55 0) rotate(-90)" x="-350.63" y="0" font-size="12" fill="#111" textLength="42.38" lengthAdjust="spacingAndGlyphs">(million</text>
<text transform="translate(13.55 0) rotate(-90)" x="-305.2" y="0" font-size="12" fill="#111" textLength="17.76" lengthAdjust="spacingAndGlyphs">kg)</text>
<text x="181.83" y="377.7" font-size="7.9" font-style="italic" stroke="#111" stroke-width="0.1" fill="#111" textLength="3.44" lengthAdjust="spacingAndGlyphs">y</text>
<text x="187.11" y="377.7" font-size="7.9" stroke="#111" stroke-width="0.1" fill="#111" textLength="6.07" lengthAdjust="spacingAndGlyphs">=</text>
<text x="194.83" y="377.7" font-size="7.9" stroke="#111" stroke-width="0.1" fill="#111" textLength="21.62" lengthAdjust="spacingAndGlyphs">0.002</text>
<text x="217.91" y="377.7" font-size="7.9" stroke="#111" stroke-width="0.1" fill="#111" textLength="6.07" lengthAdjust="spacingAndGlyphs">+</text>
<text x="225.58" y="377.7" font-size="7.9" stroke="#111" stroke-width="0.1" fill="#111" textLength="20.96" lengthAdjust="spacingAndGlyphs">1.126</text>
<text x="246.65" y="377.7" font-size="7.9" font-style="italic" stroke="#111" stroke-width="0.1" fill="#111" textLength="3.72" lengthAdjust="spacingAndGlyphs">x</text>
<text x="250.68" y="377.7" font-size="7.9" stroke="#111" stroke-width="0.1" fill="#111" textLength="4" lengthAdjust="spacingAndGlyphs">,</text>
<text x="255.58" y="377.7" font-size="7.9" font-style="italic" stroke="#111" stroke-width="0.1" fill="#111" textLength="5.36" lengthAdjust="spacingAndGlyphs">R</text>
<text x="261.52" y="374.7" font-size="5.3" stroke="#111" stroke-width="0.1" fill="#111" textLength="3.32" lengthAdjust="spacingAndGlyphs">2</text>
<text x="266.92" y="377.7" font-size="7.9" stroke="#111" stroke-width="0.1" fill="#111" textLength="5.96" lengthAdjust="spacingAndGlyphs">=</text>
<text x="274.54" y="377.7" font-size="7.9" stroke="#111" stroke-width="0.1" fill="#111" textLength="21.21" lengthAdjust="spacingAndGlyphs">0.998</text>
<text x="181.28" y="385.8" font-size="7.9" font-style="italic" stroke="#111" stroke-width="0.1" fill="#111" textLength="5.73" lengthAdjust="spacingAndGlyphs">N</text>
<text x="188.43" y="385.8" font-size="7.9" stroke="#111" stroke-width="0.1" fill="#111" textLength="5.84" lengthAdjust="spacingAndGlyphs">=</text>
<text x="196.1" y="385.8" font-size="7.9" stroke="#111" stroke-width="0.1" fill="#111" textLength="14.25" lengthAdjust="spacingAndGlyphs">288</text>
<text x="489.89" y="233.2" font-size="12" fill="#111" textLength="17.52" lengthAdjust="spacingAndGlyphs">NO</text>
<text x="507.3" y="234.8" font-size="6.8" fill="#111" textLength="4.5" lengthAdjust="spacingAndGlyphs">x</text>
<text x="515.8" y="233.2" font-size="12" fill="#111" textLength="54.81" lengthAdjust="spacingAndGlyphs">discharge</text>
<text x="460.04" y="456.5" font-size="12" fill="#111" textLength="39.36" lengthAdjust="spacingAndGlyphs">Official</text>
<text x="503.25" y="456.5" font-size="12" fill="#111" textLength="30.31" lengthAdjust="spacingAndGlyphs">value</text>
<text x="536.75" y="456.5" font-size="12" fill="#111" textLength="40.41" lengthAdjust="spacingAndGlyphs">(million</text>
<text x="579.63" y="456.5" font-size="12" fill="#111" textLength="20.38" lengthAdjust="spacingAndGlyphs">kg)</text>
<text transform="translate(361.8 0) rotate(-90)" x="-408.69" y="0" font-size="12" fill="#111" textLength="20.95" lengthAdjust="spacingAndGlyphs">Our</text>
<text transform="translate(361.8 0) rotate(-90)" x="-383.7" y="0" font-size="12" fill="#111" textLength="30.11" lengthAdjust="spacingAndGlyphs">value</text>
<text transform="translate(361.8 0) rotate(-90)" x="-350.63" y="0" font-size="12" fill="#111" textLength="42.38" lengthAdjust="spacingAndGlyphs">(million</text>
<text transform="translate(361.8 0) rotate(-90)" x="-305.2" y="0" font-size="12" fill="#111" textLength="17.76" lengthAdjust="spacingAndGlyphs">kg)</text>
<text x="530.33" y="379.8" font-size="7.9" font-style="italic" stroke="#111" stroke-width="0.1" fill="#111" textLength="3.44" lengthAdjust="spacingAndGlyphs">y</text>
<text x="535.61" y="379.8" font-size="7.9" stroke="#111" stroke-width="0.1" fill="#111" textLength="6.07" lengthAdjust="spacingAndGlyphs">=</text>
<text x="543.33" y="379.8" font-size="7.9" stroke="#111" stroke-width="0.1" fill="#111" textLength="21.62" lengthAdjust="spacingAndGlyphs">0.242</text>
<text x="566.41" y="379.8" font-size="7.9" stroke="#111" stroke-width="0.1" fill="#111" textLength="6.07" lengthAdjust="spacingAndGlyphs">+</text>
<text x="574.08" y="379.8" font-size="7.9" stroke="#111" stroke-width="0.1" fill="#111" textLength="20.96" lengthAdjust="spacingAndGlyphs">1.043</text>
<text x="595.15" y="379.8" font-size="7.9" font-style="italic" stroke="#111" stroke-width="0.1" fill="#111" textLength="3.72" lengthAdjust="spacingAndGlyphs">x</text>
<text x="599.17" y="379.8" font-size="7.9" stroke="#111" stroke-width="0.1" fill="#111" textLength="4" lengthAdjust="spacingAndGlyphs">,</text>
<text x="604.08" y="379.8" font-size="7.9" font-style="italic" stroke="#111" stroke-width="0.1" fill="#111" textLength="5.36" lengthAdjust="spacingAndGlyphs">R</text>
<text x="610.02" y="376.8" font-size="5.3" stroke="#111" stroke-width="0.1" fill="#111" textLength="3.32" lengthAdjust="spacingAndGlyphs">2</text>
<text x="615.42" y="379.8" font-size="7.9" stroke="#111" stroke-width="0.1" fill="#111" textLength="5.96" lengthAdjust="spacingAndGlyphs">=</text>
<text x="623.04" y="379.8" font-size="7.9" stroke="#111" stroke-width="0.1" fill="#111" textLength="21.21" lengthAdjust="spacingAndGlyphs">0.998</text>
<text x="529.78" y="388" font-size="7.9" font-style="italic" stroke="#111" stroke-width="0.1" fill="#111" textLength="5.73" lengthAdjust="spacingAndGlyphs">N</text>
<text x="536.93" y="388" font-size="7.9" stroke="#111" stroke-width="0.1" fill="#111" textLength="5.84" lengthAdjust="spacingAndGlyphs">=</text>
<text x="544.47" y="388" font-size="7.9" stroke="#111" stroke-width="0.1" fill="#111" textLength="14.25" lengthAdjust="spacingAndGlyphs">180</text>
<text x="175.5" y="479.6" font-size="10.2" fill="#111" textLength="23.94" lengthAdjust="spacingAndGlyphs">2007</text>
<text x="243.7" y="479.6" font-size="10.2" fill="#111" textLength="23.94" lengthAdjust="spacingAndGlyphs">2008</text>
<text x="312" y="479.6" font-size="10.2" fill="#111" textLength="23.94" lengthAdjust="spacingAndGlyphs">2009</text>
<text x="380.5" y="479.6" font-size="10.2" fill="#111" textLength="23.77" lengthAdjust="spacingAndGlyphs">2010</text>
<text x="449.38" y="479.6" font-size="10.2" fill="#111" textLength="23.97" lengthAdjust="spacingAndGlyphs">2011</text>
<text x="175.5" y="494.2" font-size="10.2" fill="#111" textLength="23.94" lengthAdjust="spacingAndGlyphs">2012</text>
<text x="243.7" y="494.2" font-size="10.2" fill="#111" textLength="23.94" lengthAdjust="spacingAndGlyphs">2013</text>
<text x="312" y="494.2" font-size="10.2" fill="#111" textLength="23.77" lengthAdjust="spacingAndGlyphs">2014</text>
<text x="380.5" y="494.2" font-size="10.2" fill="#111" textLength="23.94" lengthAdjust="spacingAndGlyphs">2015</text>
<text x="456.36" y="494.2" font-size="10.2" fill="#111" textLength="55.47" lengthAdjust="spacingAndGlyphs">Fitted value</text>
</g>
<rect x="151.4" y="467.4" width="366.1" height="29.8" rx="1.5" fill="none" stroke="#e0e0e0" stroke-width="0.8"/>
<circle cx="158.8" cy="476" r="2.0" fill="#17becf" fill-opacity="0.7"/>
<circle cx="227" cy="476" r="2.0" fill="#bcbd22" fill-opacity="0.7"/>
<circle cx="295.5" cy="476" r="2.0" fill="#7f7f7f" fill-opacity="0.7"/>
<circle cx="364" cy="476" r="2.0" fill="#e377c2" fill-opacity="0.7"/>
<circle cx="432.4" cy="476" r="2.0" fill="#8c564b" fill-opacity="0.7"/>
<circle cx="158.8" cy="490.6" r="2.0" fill="#d62728" fill-opacity="0.7"/>
<circle cx="227" cy="490.6" r="2.0" fill="#2ca02c" fill-opacity="0.7"/>
<circle cx="295.5" cy="490.6" r="2.0" fill="#ff7f0e" fill-opacity="0.7"/>
<circle cx="364" cy="490.6" r="2.0" fill="#1f77b4" fill-opacity="0.7"/>
<line x1="430.2" y1="489.4" x2="449.9" y2="489.4" stroke="#ff5a36" stroke-width="1.1"/>
</svg></body></html>
